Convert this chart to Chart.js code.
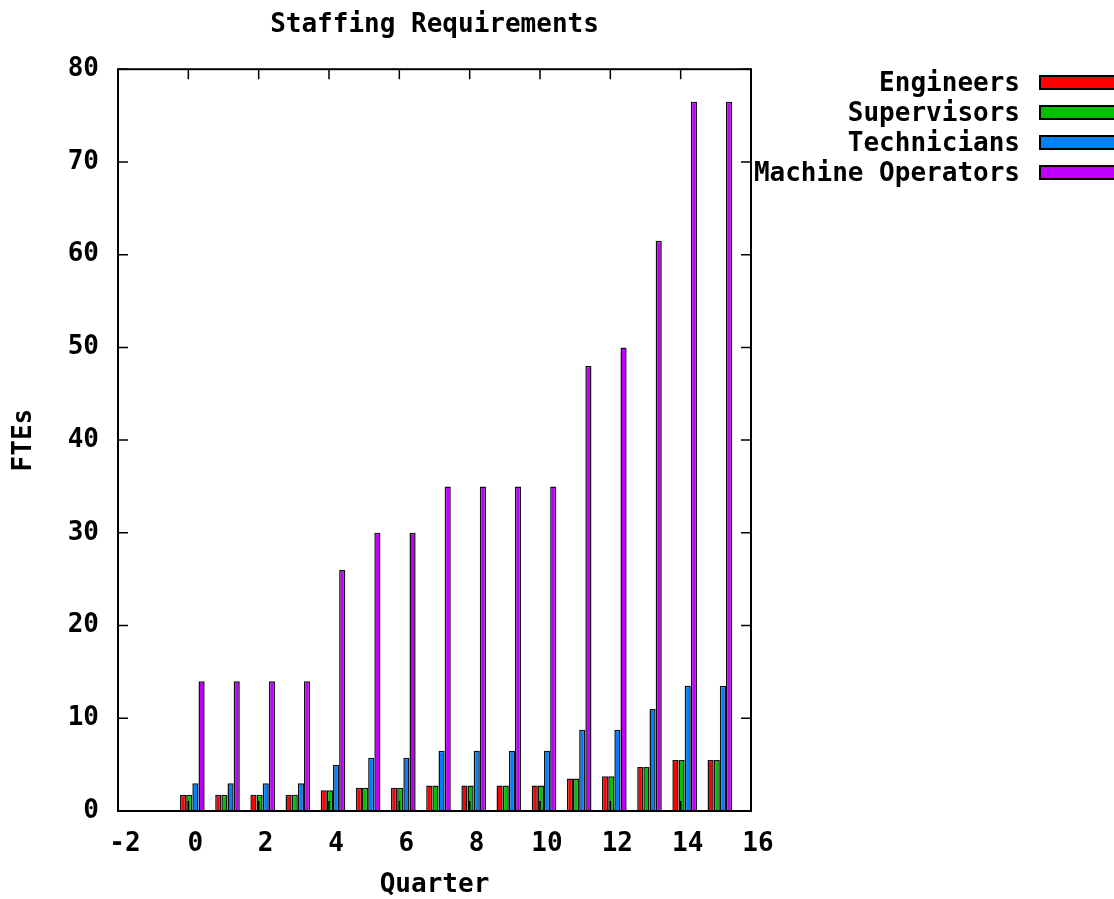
<!DOCTYPE html>
<html>
<head>
<meta charset="utf-8">
<title>Staffing Requirements</title>
<script src="https://cdn.jsdelivr.net/npm/chart.js@4/dist/chart.umd.min.js"></script>
<style>
html, body { margin: 0; padding: 0; background: #fff; }
canvas { display: block; }
</style>
</head>
<body>
<canvas id="staffChart" width="1114" height="899"></canvas>
<script>
// data
var quarters = [0, 1, 2, 3, 4, 5, 6, 7, 8, 9, 10, 11, 12, 13, 14, 15];
var engineers = [1.75, 1.75, 1.75, 1.75, 2.25, 2.5, 2.5, 2.75, 2.75, 2.75, 2.75, 3.5, 3.75, 4.75, 5.5, 5.5];
var supervisors = [1.75, 1.75, 1.75, 1.75, 2.25, 2.5, 2.5, 2.75, 2.75, 2.75, 2.75, 3.5, 3.75, 4.75, 5.5, 5.5];
var technicians = [3, 3, 3, 3, 5, 5.75, 5.75, 6.5, 6.5, 6.5, 6.5, 8.75, 8.75, 11, 13.5, 13.5];
var machineOperators = [14, 14, 14, 14, 26, 30, 30, 35, 35, 35, 35, 48, 50, 61.5, 76.5, 76.5];

var seriesNames = ['Engineers', 'Supervisors', 'Technicians', 'Machine Operators'];
var seriesColors = ['#ff0000', '#00c000', '#0080ff', '#c000ff'];

var xTickValues = [-2, 0, 2, 4, 6, 8, 10, 12, 14, 16];
var yTickValues = [0, 10, 20, 30, 40, 50, 60, 70, 80];

var FONT_FAMILY = "'DejaVu Sans Mono', 'Liberation Mono', monospace";
var labelFont = { family: FONT_FAMILY, size: 26, weight: 'bold' };

function toPoints(values){
    return quarters.map(function(q, i){ return { x: q, y: values[i] }; });
}

var allSeries = [engineers, supervisors, technicians, machineOperators];
var datasets = [];
for (var i = 0; i < allSeries.length; i++){
    datasets.push({
        label: seriesNames[i],
        data: toPoints(allSeries[i]),
        backgroundColor: seriesColors[i],
        borderColor: '#111',
        borderWidth: 1.5,
        categoryPercentage: 0.7,
        barPercentage: 1.0
    });
}

// gnuplot style frame with inward ticks on all four sides
var framePlugin = {
    id: 'gnuFrame',
    afterDraw: function(chart){
        var ctx = chart.ctx;
        var a = chart.chartArea;
        var xs = chart.scales.x, ys = chart.scales.y;
        var tick = 10;
        ctx.save();
        ctx.strokeStyle = '#000';
        ctx.lineWidth = 1.5;
        ctx.beginPath();
        xs.ticks.forEach(function(t){
            var px = xs.getPixelForValue(t.value);
            ctx.moveTo(px, a.bottom); ctx.lineTo(px, a.bottom - tick);
            ctx.moveTo(px, a.top); ctx.lineTo(px, a.top + tick);
        });
        ys.ticks.forEach(function(t){
            var py = ys.getPixelForValue(t.value);
            ctx.moveTo(a.left, py); ctx.lineTo(a.left + tick, py);
            ctx.moveTo(a.right, py); ctx.lineTo(a.right - tick, py);
        });
        ctx.stroke();
        ctx.lineWidth = 2;
        ctx.strokeRect(a.left, a.top, a.right - a.left, a.bottom - a.top);
        ctx.restore();
    }
};

// bars sit a little right of the integer quarter in the original
var barNudge = {
    id: 'barNudge',
    beforeDatasetsDraw: function(chart){
        chart.ctx.save();
        chart.ctx.translate(4, 0);
    },
    afterDatasetsDraw: function(chart){
        chart.ctx.restore();
    }
};

// key on the right: text then long swatch
var keyPlugin = {
    id: 'sideKey',
    afterDraw: function(chart){
        var ctx = chart.ctx;
        var textRight = 1020, boxLeft = 1040, rowTop = 82, rowGap = 30;
        ctx.save();
        ctx.font = 'bold 26px ' + FONT_FAMILY;
        ctx.textAlign = 'right';
        ctx.textBaseline = 'middle';
        chart.data.datasets.forEach(function(ds, i){
            var y = rowTop + i * rowGap;
            ctx.fillStyle = '#000';
            ctx.fillText(ds.label, textRight, y + 2);
            ctx.fillStyle = ds.backgroundColor;
            ctx.fillRect(boxLeft, y - 6, 90, 13);
            ctx.lineWidth = 2;
            ctx.strokeStyle = '#000';
            ctx.strokeRect(boxLeft, y - 6, 90, 13);
        });
        ctx.restore();
    }
};

var staffChart = new Chart(document.getElementById('staffChart'), {
    type: 'bar',
    data: { datasets: datasets },
    plugins: [barNudge, framePlugin, keyPlugin],
    options: {
        responsive: false,
        animation: false,
        devicePixelRatio: 1,
        layout: { padding: { left: 0, right: 363, top: 0, bottom: 0 } },
        plugins: {
            legend: { display: false },
            tooltip: { enabled: false },
            title: {
                display: true,
                text: 'Staffing Requirements',
                color: '#000',
                font: labelFont,
                fullSize: false,
                padding: { top: 10, bottom: 28 }
            }
        },
        scales: {
            x: {
                type: 'linear',
                min: -2,
                max: 16,
                offset: false,
                grid: { display: false, drawTicks: false },
                border: { display: false },
                afterBuildTicks: function(scale){
                    scale.ticks = xTickValues.map(function(v){ return { value: v }; });
                },
                afterFit: function(scale){ scale.height = 88; },
                ticks: {
                    color: '#000',
                    font: labelFont,
                    padding: 18,
                    labelOffset: 7,
                    autoSkip: false,
                    maxRotation: 0
                },
                title: {
                    display: true,
                    text: 'Quarter',
                    color: '#000',
                    font: labelFont,
                    padding: { top: 0, bottom: -2 }
                }
            },
            y: {
                min: 0,
                max: 80,
                grid: { display: false, drawTicks: false },
                border: { display: false },
                afterBuildTicks: function(scale){
                    scale.ticks = yTickValues.map(function(v){ return { value: v }; });
                },
                afterFit: function(scale){ scale.width = 118; },
                ticks: {
                    color: '#000',
                    font: labelFont,
                    padding: 19
                },
                title: {
                    display: true,
                    text: 'FTEs',
                    color: '#000',
                    font: labelFont,
                    padding: { top: 9, bottom: 0 }
                }
            }
        }
    }
});
</script>
</body>
</html>
